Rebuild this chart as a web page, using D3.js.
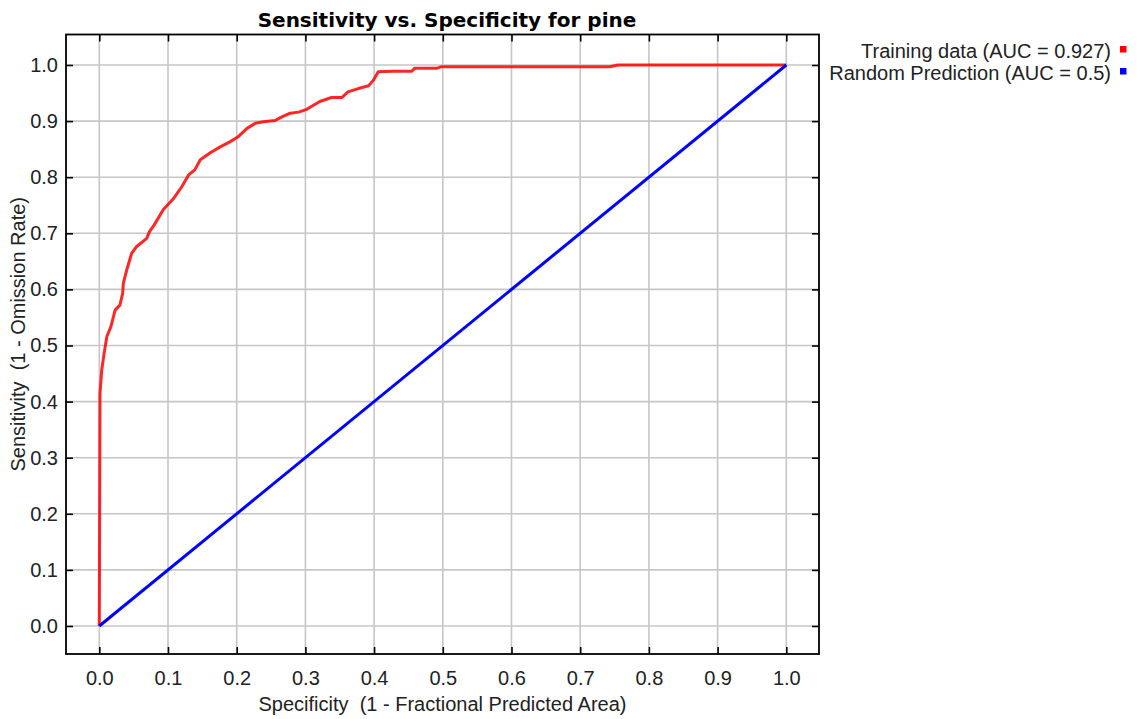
<!DOCTYPE html>
<html>
<head>
<meta charset="utf-8">
<script src="https://cdn.jsdelivr.net/npm/d3@7"></script>
<style>
  html, body { margin: 0; padding: 0; background: #fff; }
  svg { display: block; }
  text { white-space: pre; }
</style>
</head>
<body>
<svg id="chart" width="1144" height="719"></svg>
<script>
// ---- data ----
const chartTitle = "Sensitivity vs. Specificity for pine";
const xAxisTitle = "Specificity  (1 - Fractional Predicted Area)";
const yAxisTitle = "Sensitivity  (1 - Omission Rate)";
const tickValues = [0, 0.1, 0.2, 0.3, 0.4, 0.5, 0.6, 0.7, 0.8, 0.9, 1.0];
const seriesNames = ["Training data (AUC = 0.927)", "Random Prediction (AUC = 0.5)"];
const seriesColors = ["#ff0000", "#0000ff"];
const trainX = [0, 0.001, 0.0035, 0.007, 0.011, 0.017, 0.023, 0.030, 0.034, 0.035,
  0.040, 0.047, 0.054, 0.069, 0.073, 0.080, 0.093, 0.108, 0.120, 0.130,
  0.139, 0.147, 0.161, 0.176, 0.190, 0.202, 0.215, 0.227, 0.239, 0.256,
  0.265, 0.278, 0.290, 0.302, 0.321, 0.338, 0.353, 0.362, 0.377, 0.392,
  0.399, 0.406, 0.428, 0.455, 0.459, 0.491, 0.498, 0.743, 0.755, 1.0];
const trainY = [0, 0.415, 0.456, 0.486, 0.516, 0.534, 0.563, 0.572, 0.593, 0.611,
  0.635, 0.664, 0.676, 0.691, 0.703, 0.715, 0.742, 0.762, 0.783, 0.804,
  0.813, 0.831, 0.843, 0.854, 0.863, 0.872, 0.887, 0.896, 0.899, 0.901,
  0.907, 0.914, 0.916, 0.921, 0.935, 0.942, 0.942, 0.952, 0.958, 0.963,
  0.973, 0.988, 0.989, 0.989, 0.994, 0.994, 0.997, 0.997, 1.0, 1.0];
const randomX = [0, 1];
const randomY = [0, 1];

// ---- layout ----
const svg = d3.select("#chart");
const frame = { left: 66, right: 819, top: 34.5, bottom: 654 };
const x = d3.scaleLinear().domain([0, 1]).range([99.3, 786.3]);
const y = d3.scaleLinear().domain([0, 1]).range([626, 65]);
const font = "'Liberation Sans', Arial, sans-serif";
const fs = "20px";

// gridlines
const grid = svg.append("g");
grid.selectAll("line.v").data(tickValues).join("line")
  .attr("x1", d => x(d)).attr("x2", d => x(d))
  .attr("y1", frame.top).attr("y2", frame.bottom)
  .attr("stroke", "#c6c6c6").attr("stroke-width", 1.6);
grid.selectAll("line.h").data(tickValues).join("line")
  .attr("y1", d => y(d)).attr("y2", d => y(d))
  .attr("x1", frame.left).attr("x2", frame.right)
  .attr("stroke", "#c6c6c6").attr("stroke-width", 1.6);

// axes (ticks inside the frame)
const fmt = d3.format(".1f");
const xAxisBottom = svg.append("g").attr("transform", `translate(0,${frame.bottom})`)
  .call(d3.axisBottom(x).tickValues(tickValues).tickSize(-7).tickPadding(24).tickFormat(fmt));
const xAxisTop = svg.append("g").attr("transform", `translate(0,${frame.top})`)
  .call(d3.axisTop(x).tickValues(tickValues).tickSize(-7).tickFormat(""));
const yAxisLeft = svg.append("g").attr("transform", `translate(${frame.left},0)`)
  .call(d3.axisLeft(y).tickValues(tickValues).tickSize(-7).tickPadding(8).tickFormat(fmt));
const yAxisRight = svg.append("g").attr("transform", `translate(${frame.right},0)`)
  .call(d3.axisRight(y).tickValues(tickValues).tickSize(-7).tickFormat(""));
[xAxisBottom, xAxisTop, yAxisLeft, yAxisRight].forEach(g => {
  g.select(".domain").remove();
  g.selectAll(".tick line").attr("stroke", "#000").attr("stroke-width", 1.6);
  g.selectAll(".tick text").attr("fill", "#222").style("font-family", font).style("font-size", fs);
});
xAxisBottom.selectAll(".tick text").attr("dy", "0.71em").attr("y", 17);

// frame
svg.append("rect")
  .attr("x", frame.left).attr("y", frame.top)
  .attr("width", frame.right - frame.left).attr("height", frame.bottom - frame.top)
  .attr("fill", "none").attr("stroke", "#000").attr("stroke-width", 1.8);

// lines
const line = d3.line().x(d => x(d[0])).y(d => y(d[1]));
const trainPts = trainX.map((v, i) => [v, trainY[i]]);
const randPts = randomX.map((v, i) => [v, randomY[i]]);
svg.append("path").datum(trainPts).attr("d", line)
  .attr("fill", "none").attr("stroke", seriesColors[0]).attr("stroke-width", 3)
  .attr("stroke-opacity", 0.85).attr("stroke-linejoin", "round");
svg.append("path").datum(randPts).attr("d", line)
  .attr("fill", "none").attr("stroke", seriesColors[1]).attr("stroke-width", 3);

// title
svg.append("text").attr("x", 447).attr("y", 27)
  .attr("text-anchor", "middle")
  .style("font-family", "'DejaVu Sans', sans-serif").style("font-weight", "bold").style("font-size", "20px")
  .attr("fill", "#000").text(chartTitle);

// axis titles
svg.append("text").attr("x", (frame.left + frame.right) / 2).attr("y", 711)
  .attr("text-anchor", "middle").style("font-family", font).style("font-size", fs)
  .attr("fill", "#222").text(xAxisTitle);
svg.append("text").attr("transform", `translate(25,${(frame.top + frame.bottom) / 2 - 10}) rotate(-90)`)
  .attr("text-anchor", "middle").style("font-family", font).style("font-size", fs)
  .attr("fill", "#222").text(yAxisTitle);

// legend
const legend = svg.append("g");
const legY = [58, 80];
seriesNames.forEach((name, i) => {
  legend.append("text").attr("x", 1111).attr("y", legY[i])
    .attr("text-anchor", "end").style("font-family", font).style("font-size", fs)
    .attr("fill", "#222").text(name);
  legend.append("rect").attr("x", 1120).attr("y", legY[i] - 12)
    .attr("width", 6.5).attr("height", 6.5).attr("fill", seriesColors[i]);
});
</script>
</body>
</html>
